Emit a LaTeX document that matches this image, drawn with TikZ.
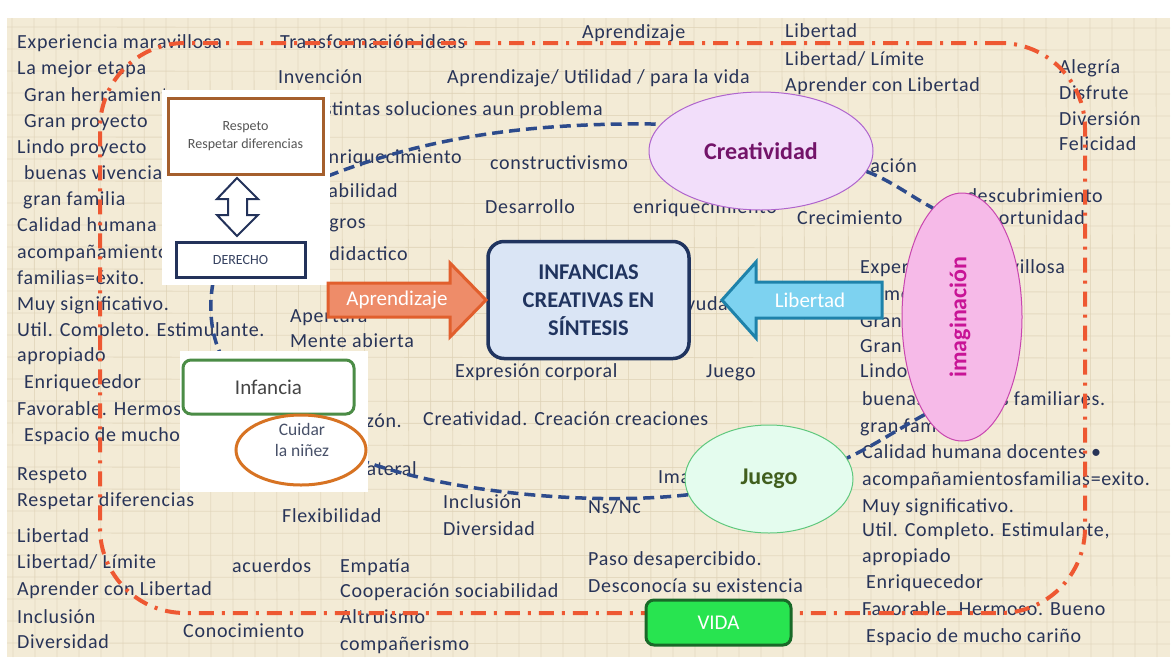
\documentclass[tikz,border=0pt]{standalone}
\usepackage{fontspec}
\setmainfont{Carlito}
\newfontfamily\bgfont[LetterSpace=3.5]{Carlito}
\usetikzlibrary{shapes.geometric}
\definecolor{bgcream}{RGB}{243,235,214}
\definecolor{bgline}{RGB}{222,210,182}
\definecolor{bgtext}{RGB}{40,52,88}
\definecolor{redline}{RGB}{238,88,50}
\definecolor{bluedash}{RGB}{45,75,140}
\definecolor{brownb}{RGB}{165,95,45}
\definecolor{navyb}{RGB}{35,50,90}
\definecolor{greenb}{RGB}{75,140,70}
\definecolor{orangee}{RGB}{215,115,35}
\definecolor{cfill}{RGB}{218,229,245}
\definecolor{cborder}{RGB}{32,52,95}
\definecolor{creafill}{RGB}{242,222,250}
\definecolor{creadraw}{RGB}{175,100,205}
\definecolor{creatext}{RGB}{115,20,105}
\definecolor{imagfill}{RGB}{246,186,232}
\definecolor{imagdraw}{RGB}{200,70,175}
\definecolor{imagtext}{RGB}{200,20,150}
\definecolor{juegofill}{RGB}{228,252,238}
\definecolor{juegodraw}{RGB}{95,200,125}
\definecolor{juegotext}{RGB}{65,95,30}
\definecolor{vidafill}{RGB}{40,228,80}
\definecolor{vidadraw}{RGB}{25,105,40}
\definecolor{apfill}{RGB}{238,140,105}
\definecolor{apdraw}{RGB}{225,95,45}
\definecolor{libfill}{RGB}{125,210,240}
\definecolor{libdraw}{RGB}{30,130,170}
\definecolor{graytext}{RGB}{85,85,85}
\tikzset{
  bgt/.style={anchor=base west, inner sep=0pt, text=bgtext, font=\bgfont\fontsize{20}{24}\selectfont},
  bge/.style={bgt, anchor=base east},
  panel/.style={fill=white, inner sep=0pt},
  bluelink/.style={draw=bluedash, line width=3.5pt, dash pattern=on 11pt off 6pt},
  ellnode/.style={ellipse, inner sep=0pt, line width=1pt},
}
\begin{document}
\begin{tikzpicture}[x=1pt,y=-1pt]
\useasboundingbox (0,0) rectangle (1176,657);
\fill[white] (0,0) rectangle (1176,657);
\fill[bgcream] (7,18) rectangle (1170,657);
% faint tile texture
\begin{scope}
\clip (7,18) rectangle (1170,657);
\foreach \gx in {0,...,52} {
  \draw[bgline, line width=0.8pt, opacity=0.7] ({12+\gx*22},18) -- ({13+\gx*22},657);
}
\foreach \gy in {0,...,29} {
  \draw[bgline, line width=0.8pt, opacity=0.7] (7,{27+\gy*22}) -- (1170,{28+\gy*22});
}
\end{scope}

% background words, left column
\node[bgt] (t1) at (17,48) {Experiencia maravillosa};
\node[bgt] (t2) at (17,74) {La mejor etapa};
\node[bgt] (t3) at (24,101) {Gran herramienta};
\node[bgt] (t4) at (24,127) {Gran proyecto};
\node[bgt] (t5) at (17,153) {Lindo proyecto};
\node[bgt] (t6) at (24,179) {buenas vivencias familiares.};
\node[bgt] (t7) at (23,205) {gran familia};
\node[bgt] (t8) at (17,231) {Calidad humana docentes};
\node[bgt] (t9) at (17,258) {acompañamientos};
\node[bgt] (t10) at (17,284) {familias=éxito.};
\node[bgt] (t11) at (17,310) {Muy significativo.};
\node[bgt] (t12) at (17,336) {Util. Completo. Estimulante.};
\node[bgt] (t13) at (17,361) {apropiado};
\node[bgt] (t14) at (24,388) {Enriquecedor};
\node[bgt] (t15) at (17,415) {Favorable. Hermoso. Bueno};
\node[bgt] (t16) at (24,441) {Espacio de mucho cariño};
\node[bgt] (t17) at (17,480) {Respeto};
\node[bgt] (t18) at (17,506) {Respetar diferencias};
\node[bgt] (t19) at (17,542) {Libertad};
\node[bgt] (t20) at (17,568) {Libertad/ Límite};
\node[bgt] (t21) at (17,595) {Aprender con Libertad};
\node[bgt] (t22) at (17,623) {Inclusión};
\node[bgt] (t23) at (17,648) {Diversidad};
% second column
\node[bgt] (t24) at (280,48) {Transformación ideas};
\node[bgt] (t25) at (278,83) {Invención};
\node[bge] (t26) at (603,115) {Distintas soluciones aun problema};
\node[bge] (t27) at (462,163) {enriquecimiento};
\node[bge] (t28) at (398,197) {Sociabilidad};
\node[bge] (t29) at (366,228) {Logros};
\node[bge] (t30) at (408,260) {didactico};
\node[bgt] (t31) at (290,322) {Apertura};
\node[bgt] (t32) at (290,347) {Mente abierta};
\node[bge] (t33) at (402,427) {Corazón.};
\node[bgt] (t34) at (423,425) {Creatividad. Creación creaciones};
\node[bge] (t35) at (417,475) {Pensamiento lateral};
\node[bgt] (t36) at (282,522) {Flexibilidad};
\node[bgt] (t37) at (232,572) {acuerdos};
\node[bgt] (t38) at (340,572) {Empatía};
\node[bgt] (t39) at (340,597) {Cooperación sociabilidad};
\node[bgt] (t40) at (183,637) {Conocimiento};
\node[bgt] (t41) at (340,623) {Altruismo};
\node[bgt] (t42) at (340,650) {compañerismo};
% middle
\node[bgt] (t43) at (582,38) {Aprendizaje};
\node[bgt] (t44) at (447,83) {Aprendizaje/ Utilidad / para la vida};
\node[bgt] (t45) at (490,169) {constructivismo};
\node[bgt] (t46) at (485,213) {Desarrollo};
\node[bgt] (t47) at (633,213) {enriquecimiento};
\node[bgt] (t48) at (455,377) {Expresión corporal};
\node[bgt] (t49) at (706,377) {Juego};
\node[bge] (t50) at (728,310) {Ayuda};
\node[bgt] (t51) at (443,508) {Inclusión};
\node[bgt] (t52) at (443,535) {Diversidad};
\node[bgt] (t53) at (588,513) {Ns/Nc};
\node[bgt] (t54) at (658,483) {Imagen};
\node[bgt] (t55) at (588,565) {Paso desapercibido.};
\node[bgt] (t56) at (588,592) {Desconocía su existencia};
% right
\node[bgt] (t57) at (785,37) {Libertad};
\node[bgt] (t58) at (785,65) {Libertad/ Límite};
\node[bgt] (t59) at (785,91) {Aprender con Libertad};
\node[bgt] (t60) at (1059,73) {Alegría};
\node[bgt] (t61) at (1059,99) {Disfrute};
\node[bgt] (t62) at (1059,125) {Diversión};
\node[bgt] (t63) at (1059,150) {Felicidad};
\node[bge] (t64) at (917,172) {Innovación};
\node[bge] (t65) at (1103,202) {descubrimiento};
\node[bgt] (t66) at (797,224) {Crecimiento};
\node[bge] (t67) at (1085,224) {Oportunidad};
\node[bgt] (t68) at (860,273) {Experiencia maravillosa};
\node[bgt] (t69) at (860,300) {La mejor etapa};
\node[bgt] (t70) at (860,327) {Gran herramienta};
\node[bgt] (t71) at (860,352) {Gran proyecto};
\node[bgt] (t72) at (860,377) {Lindo proyecto};
\node[bgt] (t73) at (862,405) {buenas vivencias familiares.};
\node[bgt] (t74) at (860,432) {gran familia};
\node[bgt] (t75) at (862,458) {Calidad humana docentes •};
\node[bgt] (t76) at (862,485) {acompañamientosfamilias=exito.};
\node[bgt] (t77) at (862,512) {Muy significativo.};
\node[bgt] (t78) at (862,536) {Util. Completo. Estimulante,};
\node[bgt] (t79) at (862,562) {apropiado};
\node[bgt] (t80) at (866,588) {Enriquecedor};
\node[bgt] (t81) at (862,615) {Favorable. Hermoso. Bueno};
\node[bgt] (t82) at (866,642) {Espacio de mucho cariño};

% red dash-dot frame
\node[draw=redline, line width=4pt, rounded corners=85pt, dash pattern=on 15pt off 8pt on 3pt off 8pt,
      minimum width=985pt, minimum height=570pt, inner sep=0pt] (frame) at (592.5,328) {};

% nodes
\node[ellnode, fill=creafill, draw=creadraw, minimum width=224pt, minimum height=118pt,
      text=creatext, font=\bfseries\fontsize{24}{28}\selectfont] (crea) at (761,151) {Creatividad};
\node[ellnode, fill=imagfill, draw=imagdraw, minimum width=120pt, minimum height=248pt] (imag) at (962,317) {};
\node[rotate=90, text=imagtext, font=\bfseries\fontsize{24}{28}\selectfont, inner sep=0pt] (imagt) at (960,317) {imaginación};
\node[ellnode, fill=juegofill, draw=juegodraw, minimum width=168pt, minimum height=108pt,
      text=juegotext, font=\bfseries\fontsize{24}{28}\selectfont] (juego) at (769,479) {Juego};

% blue dashed links
\coordinate (p1r) at (328,176);
\coordinate (p1b) at (213,283);
\coordinate (p2t) at (220,353);
\coordinate (p2r) at (366,462);
\draw[bluelink] (p1r) .. controls (420,140) and (520,122) .. (crea.165);
\draw[bluelink] (crea.-11) .. controls (890,180) and (912,197) .. (imag.105);
\draw[bluelink] (imag.249) .. controls (900,428) and (875,445) .. (juego.15);
\draw[bluelink] (juego.191) .. controls (600,505) and (460,495) .. (p2r);
\draw[bluelink] (p1b) .. controls (208,310) and (212,335) .. (p2t);

% white panels
\node[panel, minimum width=168pt, minimum height=195pt] (panA) at (246,187.5) {};
\node[panel, minimum width=188pt, minimum height=141pt] (panB) at (274,421.5) {};

\node[draw=brownb, line width=3pt, minimum width=155pt, minimum height=76pt, inner sep=0pt,
      align=center, text=graytext, font=\fontsize{14}{18}\selectfont] (resp) at (245.5,136) {Respeto\\Respetar diferencias};
\draw[navyb, line width=2pt, fill=white, line join=miter]
  (237,178) -- (258,199) -- (247,199) -- (247,215) -- (258,215) -- (237,236)
  -- (217,215) -- (228,215) -- (228,199) -- (217,199) -- cycle;
\node[draw=navyb, line width=3pt, minimum width=129pt, minimum height=35pt, inner sep=0pt,
      text=navyb!80!gray, font=\fontsize{14}{16}\selectfont] (der) at (240.5,259.5) {DERECHO};

\node[draw=greenb, line width=3pt, rounded corners=8pt, minimum width=171pt, minimum height=54pt, inner sep=0pt,
      text=graytext!80!black, font=\fontsize{21}{24}\selectfont] (inf) at (268.5,387) {Infancia};
\node[ellnode, draw=orangee, line width=3pt, fill=white, minimum width=130pt, minimum height=70pt] (cuid) at (301,450) {};
\node[align=center, inner sep=0pt, text=navyb!60!gray, font=\fontsize{17.5}{21}\selectfont] (cuidt) at (302,440) {Cuidar\\la niñez};

% central box
\node[draw=cborder, fill=cfill, line width=3.5pt, rounded corners=16pt, minimum width=201pt, minimum height=117pt,
      inner sep=0pt, align=center, text=cborder, font=\bfseries\fontsize{22.5}{28}\selectfont] (cent) at (588.5,300)
      {INFANCIAS\\CREATIVAS EN\\SÍNTESIS};

% Aprendizaje arrow
\draw[fill=apfill, draw=apdraw, line width=3pt, line join=miter]
  (328,283) -- (450,283) -- (450,263) -- (486,300) -- (450,337) -- (450,317) -- (328,317) -- cycle;
\node[text=white, inner sep=0pt, font=\fontsize{21}{24}\selectfont] (apt) at (397,300) {Aprendizaje};
% Libertad arrow
\draw[fill=libfill, draw=libdraw, line width=3pt, line join=miter]
  (882,282) -- (756,282) -- (756,262) -- (722,300) -- (756,338) -- (756,318) -- (882,318) -- cycle;
\node[text=white, inner sep=0pt, font=\fontsize{21}{24}\selectfont] (libt) at (810,300) {Libertad};

% VIDA
\node[draw=vidadraw, fill=vidafill, line width=3pt, rounded corners=8pt, minimum width=145pt, minimum height=45pt,
      inner sep=0pt, text=white, font=\fontsize{21}{24}\selectfont] (vida) at (718.5,622.5) {VIDA};
\end{tikzpicture}
\end{document}
